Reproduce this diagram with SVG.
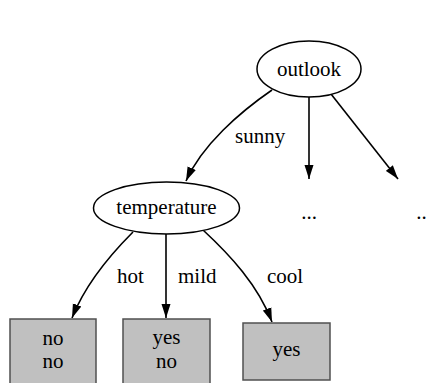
<svg xmlns="http://www.w3.org/2000/svg" width="427" height="383" viewBox="0 0 427 383">
  <style>
    .node ellipse { fill: #ffffff; stroke: #000000; stroke-width: 1.5; }
    .leaf rect { fill: #c0c0c0; stroke: #505050; stroke-width: 1.5; }
    text { font-family: "Liberation Serif", "DejaVu Serif", "Times New Roman", serif; font-size: 21px; fill: #000000; }
    .c { text-anchor: middle; }
    .edge { fill: none; stroke: #000000; stroke-width: 1.6; marker-end: url(#arrow); }
  </style>
  <defs>
    <marker id="arrow" markerUnits="userSpaceOnUse" markerWidth="14" markerHeight="10" viewBox="0 0 14 10" refX="14" refY="5" orient="auto">
      <path d="M0,0.5 L14,5 L0,9.5 z" fill="#000000"/>
    </marker>
  </defs>
  <rect width="427" height="383" fill="#ffffff"/>

  <!-- connectors -->
  <g id="edges">
    <path class="edge" d="M272,90 C240,112 202,145 186,181"/>
    <path class="edge" d="M309,97 L309,179"/>
    <path class="edge" d="M331,94 L398,179"/>
    <path class="edge" d="M133,232 C110,255 85,285 72,318"/>
    <path class="edge" d="M166,234 L166,318"/>
    <path class="edge" d="M203,230 C230,255 258,285 272,322"/>
    <text x="235" y="143" font-family="Liberation Serif, serif">sunny</text>
    <text x="117" y="283" font-family="Liberation Serif, serif">hot</text>
    <text x="178" y="283" font-family="Liberation Serif, serif">mild</text>
    <text x="267" y="283" font-family="Liberation Serif, serif">cool</text>
  </g>

  <!-- tree nodes -->
  <g id="outlook" class="node">
    <ellipse cx="309" cy="69" rx="52" ry="28"/>
    <text class="c" x="309" y="76" font-family="Liberation Serif, serif">outlook</text>
  </g>
  <g id="temperature" class="node">
    <ellipse cx="166.5" cy="208" rx="73" ry="26"/>
    <text class="c" x="166.5" y="214" font-family="Liberation Serif, serif">temperature</text>
  </g>
  <g id="more1">
    <text class="c" x="309" y="219" font-family="Liberation Serif, serif">...</text>
  </g>
  <g id="more2">
    <text class="c" x="424" y="219" font-family="Liberation Serif, serif">...</text>
  </g>
  <g id="hot-leaf" class="leaf">
    <rect x="10" y="319" width="86" height="70"/>
    <text class="c" x="53" y="345" font-family="Liberation Serif, serif">no</text>
    <text class="c" x="53" y="368" font-family="Liberation Serif, serif">no</text>
  </g>
  <g id="mild-leaf" class="leaf">
    <rect x="123" y="319" width="87" height="70"/>
    <text class="c" x="166.5" y="344" font-family="Liberation Serif, serif">yes</text>
    <text class="c" x="166.5" y="368" font-family="Liberation Serif, serif">no</text>
  </g>
  <g id="cool-leaf" class="leaf">
    <rect x="243" y="323" width="87" height="57"/>
    <text class="c" x="286.5" y="356" font-family="Liberation Serif, serif">yes</text>
  </g>
</svg>
